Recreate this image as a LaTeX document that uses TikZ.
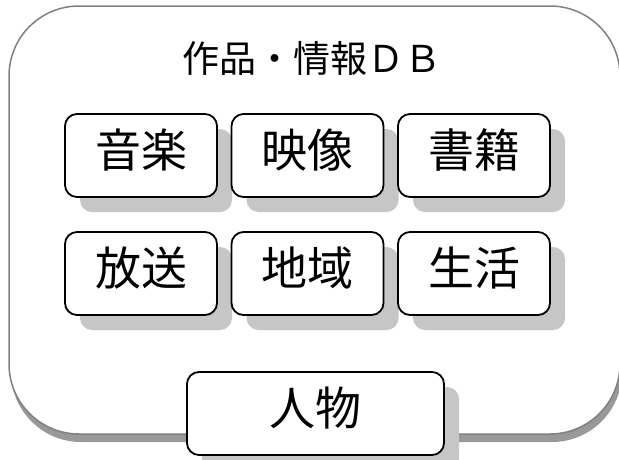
\documentclass[tikz,border=0pt]{standalone}
\usepackage{fontspec}
\setmainfont{Noto Sans CJK JP}
\usetikzlibrary{shadows}

\tikzset{
  catbox/.style={draw, line width=1.8pt, rounded corners=12pt, fill=white,
    minimum width=152pt, minimum height=83pt, inner sep=0pt,
    text height=38pt, text depth=14pt,
    font=\fontsize{46}{46}\selectfont,
    drop shadow={shadow xshift=15pt, shadow yshift=-15pt, fill=gray!45, opacity=1}},
  dbframe/.style={draw=gray, line width=1.5pt, rounded corners=70pt, fill=white},
}

\begin{document}
\begin{tikzpicture}[x=1pt, y=-1pt]

  \clip (0,0) rectangle (619,459);

  % outer frame with its shadow
  \fill[black!40, rounded corners=70pt] (11,14) rectangle (622,442);
  \path[dbframe] (9,6) rectangle (620,434);

  \node[font=\fontsize{37}{37}\selectfont] (title) at (311.5,58) {作品・情報ＤＢ};

  \node[catbox] (music) at (141,155.5) {音楽};
  \node[catbox] (video) at (307.5,155.5) {映像};
  \node[catbox] (books) at (474,155.5) {書籍};

  \node[catbox] (broadcast) at (141,273.5) {放送};
  \node[catbox] (region) at (307.5,273.5) {地域};
  \node[catbox] (life) at (474,273.5) {生活};

  \node[catbox, minimum width=257pt] (people) at (315.5,413.5) {人物};

\end{tikzpicture}
\end{document}
